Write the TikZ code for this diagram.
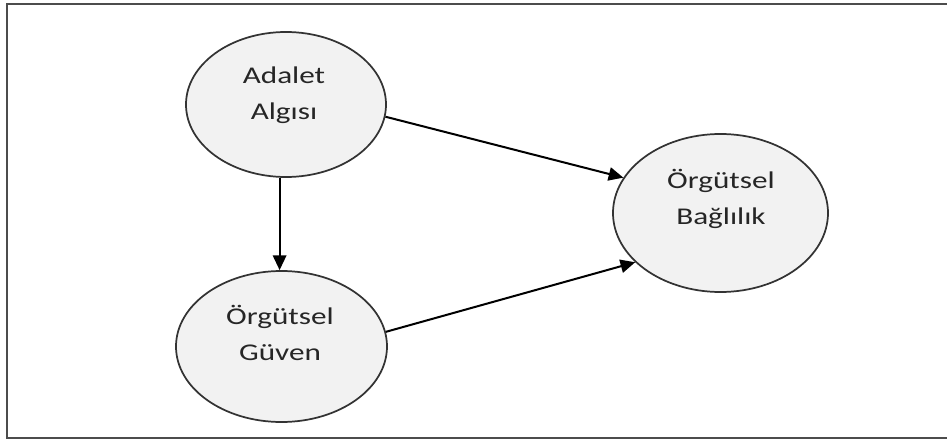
\documentclass[tikz,border=0pt]{standalone}
\usepackage{fontspec}
\setmainfont{Carlito}[FakeStretch=1.3]
\usetikzlibrary{shapes.geometric,arrows.meta}

\begin{document}
\begin{tikzpicture}[x=0.75pt,y=-0.75pt,
    konu/.style={ellipse,draw=black!80,line width=1.3pt,fill=black!5,inner sep=0pt},
    yazi/.style={align=center,font=\fontsize{18}{27}\selectfont,text=black!85},
    ok/.style={line width=1.5pt,-{Triangle[length=11pt,width=10pt]}}]
    \useasboundingbox (0,0) rectangle (947,439);
    \draw[black!70,line width=1.5pt] (947,4) -- (7,4) -- (7,438) -- (947,438);
    \node[konu,minimum width=150pt,minimum height=108.75pt] (adalet) at (286,104.5) {};
    \node[konu,minimum width=158.25pt,minimum height=113.25pt] (guven) at (281.5,346.5) {};
    \node[konu,minimum width=161.25pt,minimum height=118.5pt] (baglilik) at (720.5,213) {};
    \node[yazi] (adalet-yazi) at (284,95) {Adalet\\Algısı};
    \node[yazi] (guven-yazi) at (280,333) {Örgütsel\\Güven};
    \node[yazi] (baglilik-yazi) at (721,199) {Örgütsel\\Bağlılık};
    \draw[ok] (adalet.-95) -- (adalet.-95 |- guven.north);
    \draw[ok] (adalet.-7) -- (baglilik.160);
    \draw[ok] (guven.8) -- (baglilik.-150);
\end{tikzpicture}
\end{document}
